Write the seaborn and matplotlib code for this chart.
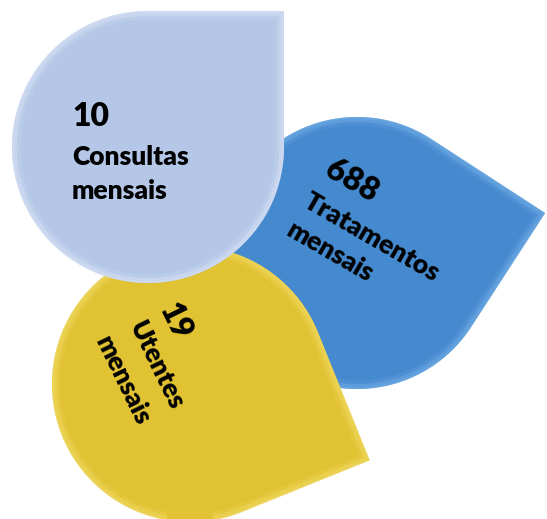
import numpy as np
import matplotlib
matplotlib.use("Agg")
import matplotlib.pyplot as plt
from matplotlib.path import Path
from matplotlib.patches import PathPatch
import seaborn as sns

# ---- data ----
values = [10, 688, 19]
label_line1 = ["Consultas", "Tratamentos", "Utentes"]
label_line2 = ["mensais", "mensais", "mensais"]

# ---- style ----
fill_colors = ["#B4C7E7", "#4589CF", "#E1C233"]
rim_colors = ["#E4ECFA", "#86BDF0", "#F8E476"]

sns.set_theme(style="white")
plt.rcParams["font.family"] = ["Lato", "DejaVu Sans"]

# ---- layout (pixel coordinates, y downward) ----
centers = [(148, 147), (357, 253), (190, 384)]
radii = [136, 136, 138]
tip_dirs = [-45, -12, 23]
zorders = [3, 1, 2]
text_rot = [0, -30, -64]
anchors = [
    [(72, 126), (72, 165), (72, 199)],
    [(323, 175), (302, 206), (285, 235)],
    [(158, 309), (128, 326), (95, 341)],
]
num_size = 23
lab_size = 19


def teardrop(cx, cy, r, psi_deg):
    psi = np.deg2rad(psi_deg)
    t = np.linspace(psi + np.pi / 4, psi + 2 * np.pi - np.pi / 4, 300)
    pts = np.column_stack([cx + r * np.cos(t), cy + r * np.sin(t)])
    tip = [cx + r * np.sqrt(2) * np.cos(psi), cy + r * np.sqrt(2) * np.sin(psi)]
    pts = np.vstack([pts, tip, pts[0]])
    return Path(pts, closed=True)


fig = plt.figure(figsize=(5.47, 5.19), dpi=100)
ax = fig.add_axes([0, 0, 1, 1])
ax.set_xlim(0, 547)
ax.set_ylim(519, 0)
ax.axis("off")

for i in range(len(values)):
    path = teardrop(*centers[i], radii[i], tip_dirs[i])
    z = zorders[i] * 10
    body = PathPatch(path, facecolor=fill_colors[i], edgecolor="none", zorder=z)
    ax.add_patch(body)
    for lw, al in [(12, 0.15), (7, 0.3), (3, 0.2)]:
        rim = PathPatch(path, facecolor="none", edgecolor=rim_colors[i],
                        lw=lw, alpha=al, zorder=z + 1)
        ax.add_patch(rim)
        rim.set_clip_path(body)
    texts = [str(values[i]), label_line1[i], label_line2[i]]
    sizes = [num_size, lab_size, lab_size]
    for (x, y), s, fs in zip(anchors[i], texts, sizes):
        ax.text(x, y, s, rotation=text_rot[i], rotation_mode="anchor",
                ha="left", va="baseline", fontsize=fs, fontweight="heavy",
                color="black", zorder=z + 5)

fig.savefig("out.png", dpi=100)
